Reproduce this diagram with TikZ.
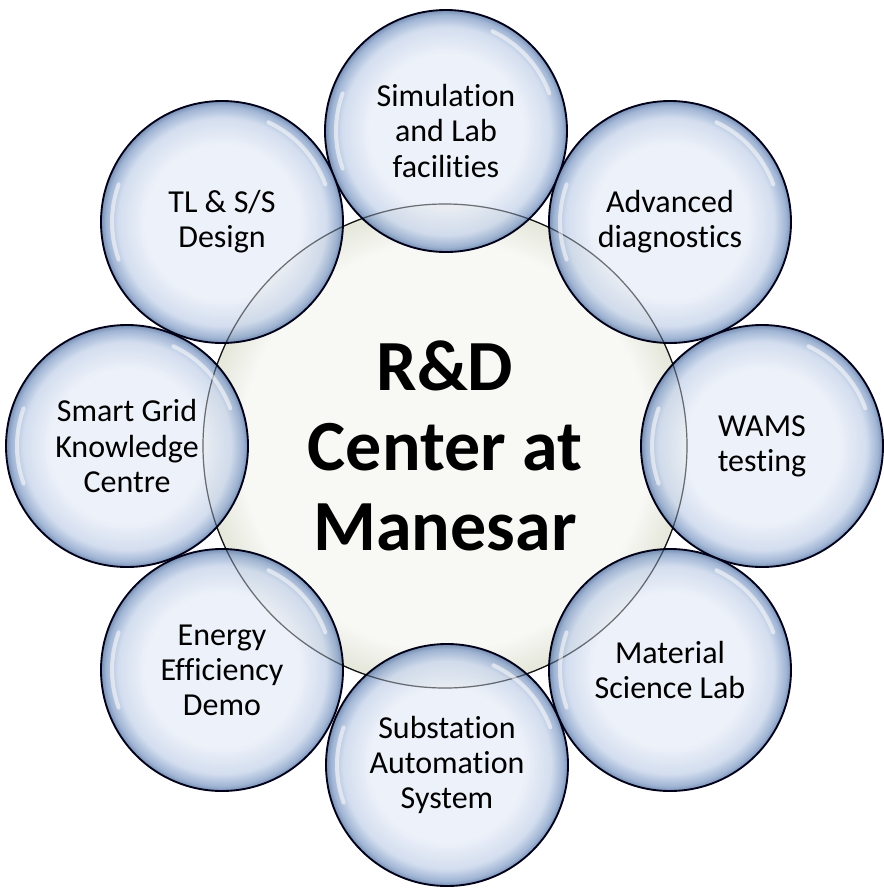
\documentclass[tikz,border=0pt]{standalone}
\usepackage{fontspec}
\setmainfont[Ligatures={NoCommon}]{Carlito}
\definecolor{bubin}{HTML}{E9EEF8}
\definecolor{bubmid}{HTML}{C9D6EB}
\definecolor{bubedge}{HTML}{8AA3CA}
\definecolor{bubrim}{HTML}{5A77A3}
\definecolor{hubin}{HTML}{F8F8F5}
\definecolor{hubout}{HTML}{E6E8DC}
\pgfdeclareradialshading{bubble}{\pgfpoint{0bp}{0bp}}{%
  color(0bp)=(bubin); color(16bp)=(bubin); color(21.5bp)=(bubmid);
  color(24bp)=(bubedge); color(25bp)=(bubrim)}
\pgfdeclareradialshading{hubshade}{\pgfpoint{0bp}{0bp}}{%
  color(0bp)=(hubin); color(21bp)=(hubin); color(24.5bp)=(hubout); color(25bp)=(hubout)}
\begin{document}
\begin{tikzpicture}[x=0.75pt,y=-0.75pt,
  bub/.style={circle, minimum size=181.5pt, inner sep=0pt, shading=bubble,
    draw=black!90!blue, line width=1.4pt, fill opacity=0.82, draw opacity=1,
    text opacity=1, align=center, font=\fontsize{24}{26.3}\selectfont},
  hub/.style={circle, minimum size=363pt, inner sep=0pt, shading=hubshade,
    draw=black!85, line width=0.9pt, align=center,
    font=\fontsize{54}{60}\selectfont\bfseries},
  glint/.style={white, line width=3pt, opacity=0.55, line cap=round}]
\useasboundingbox (0,0) rectangle (883,890);
\node[hub] (hub) at (445,446) {R\&D\\Center at\\Manesar};
\node[bub] (sim) at (446,131) {Simulation\\and Lab\\facilities};
\node[bub] (adv) at (670,222) {Advanced\\diagnostics};
\node[bub] (wams) at (762,446) {WAMS\\testing};
\node[bub] (mat) at (670,670) {Material\\Science Lab};
\node[bub] (sub) at (447,765) {Substation\\Automation\\System};
\node[bub] (ene) at (222,670) {Energy\\Efficiency\\Demo};
\node[bub] (sgk) at (127,446) {Smart Grid\\Knowledge\\Centre};
\node[bub] (tl) at (222,222) {TL \& S/S\\Design};
\draw[black, line width=0.9pt, opacity=0.45] (hub.center) circle[radius=242];
\foreach \n in {sim,adv,wams,mat,sub,ene,sgk,tl}{
  \draw[glint] (\n.center) ++(-20:110) arc[start angle=-20, end angle=-65, radius=110];
  \draw[glint] (\n.center) ++(160:110) arc[start angle=160, end angle=200, radius=110];
}
\end{tikzpicture}
\end{document}
